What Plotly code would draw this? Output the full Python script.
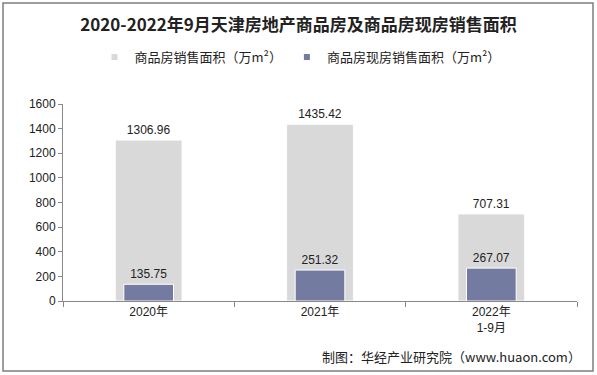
import plotly.graph_objects as go

categories = ["2020年", "2021年", "2022年<br>1-9月"]
sales_area = [1306.96, 1435.42, 707.31]
existing_sales_area = [135.75, 251.32, 267.07]
series_names = ["商品房销售面积（万m²）", "商品房现房销售面积（万m²）"]
title_text = "2020-2022年9月天津房地产商品房及商品房现房销售面积"
source_text = "制图：华经产业研究院（www.huaon.com）"

gray = "#D9D9D9"
blue = "#747BA0"
font_cjk = "Noto Sans CJK SC"

fig = go.Figure()
fig.add_trace(go.Bar(
    x=categories, y=sales_area, name=series_names[0], width=0.39,
    marker=dict(color=gray, line=dict(color="white", width=1)),
    text=[f"{v:.2f}" for v in sales_area], textposition="outside",
    textfont=dict(family="Liberation Sans, Arial", size=12, color="#222"),
    cliponaxis=False, showlegend=False,
))
fig.add_trace(go.Bar(
    x=categories, y=existing_sales_area, name=series_names[1], width=0.29,
    marker=dict(color=blue, line=dict(color="white", width=1)),
    text=[f"{v:.2f}" for v in existing_sales_area], textposition="outside",
    textfont=dict(family="Liberation Sans, Arial", size=12, color="#222"),
    cliponaxis=False, showlegend=False,
))
# legend entries with small square markers
for name, col in zip(series_names, [gray, blue]):
    fig.add_trace(go.Scatter(
        x=[None], y=[None], mode="markers", name=name,
        marker=dict(symbol="square", size=6, color=col),
    ))

L, R, T, B = 63, 20, 104, 74
W, H = 597, 375
pw, ph = W - L - R, H - T - B

def px_x(px):
    return (px - L) / pw

def px_y(py):
    return (H - B - py) / ph

fig.update_layout(
    width=W, height=H,
    margin=dict(l=L, r=R, t=T, b=B, autoexpand=False),
    paper_bgcolor="white", plot_bgcolor="white",
    barmode="overlay",
    font=dict(family=font_cjk, color="#222"),
    title=dict(text=title_text, x=0.5, xanchor="center", y=1 - 25 / H, yanchor="middle",
               font=dict(family=font_cjk, size=17, color="#222", weight="bold")),
    legend=dict(orientation="h", x=px_x(300), xanchor="center", y=px_y(57), yanchor="middle",
                font=dict(family=font_cjk, size=13, color="#222"),
                itemwidth=30, tracegroupgap=0, bgcolor="rgba(0,0,0,0)"),
    xaxis=dict(showline=True, linecolor="#888", linewidth=1, ticks="outside",
               tickson="boundaries", ticklen=5, tickcolor="#888", automargin=False,
               tickfont=dict(family="Liberation Sans, " + font_cjk, size=12, color="#222"),
               showgrid=False, fixedrange=True),
    yaxis=dict(range=[0, 1600], dtick=200, showline=True, linecolor="#888", linewidth=1,
               ticks="outside", ticklen=4, tickcolor="#888", showgrid=False, zeroline=False,
               automargin=False,
               tickfont=dict(family="Liberation Sans, Arial", size=12, color="#222")),
    shapes=[dict(type="rect", xref="paper", yref="paper",
                 x0=px_x(3), x1=px_x(593), y0=px_y(371), y1=px_y(3),
                 line=dict(color="#7f7f7f", width=1.5), fillcolor="rgba(0,0,0,0)")],
    annotations=[dict(text=source_text, xref="paper", yref="paper",
                      x=px_x(583), y=px_y(356), xanchor="right", yanchor="middle",
                      showarrow=False, font=dict(family=font_cjk, size=13, color="#222"))],
)

fig.write_html("out.html", config={"displayModeBar": False},
               post_script="document.body.style.margin='0px';")
